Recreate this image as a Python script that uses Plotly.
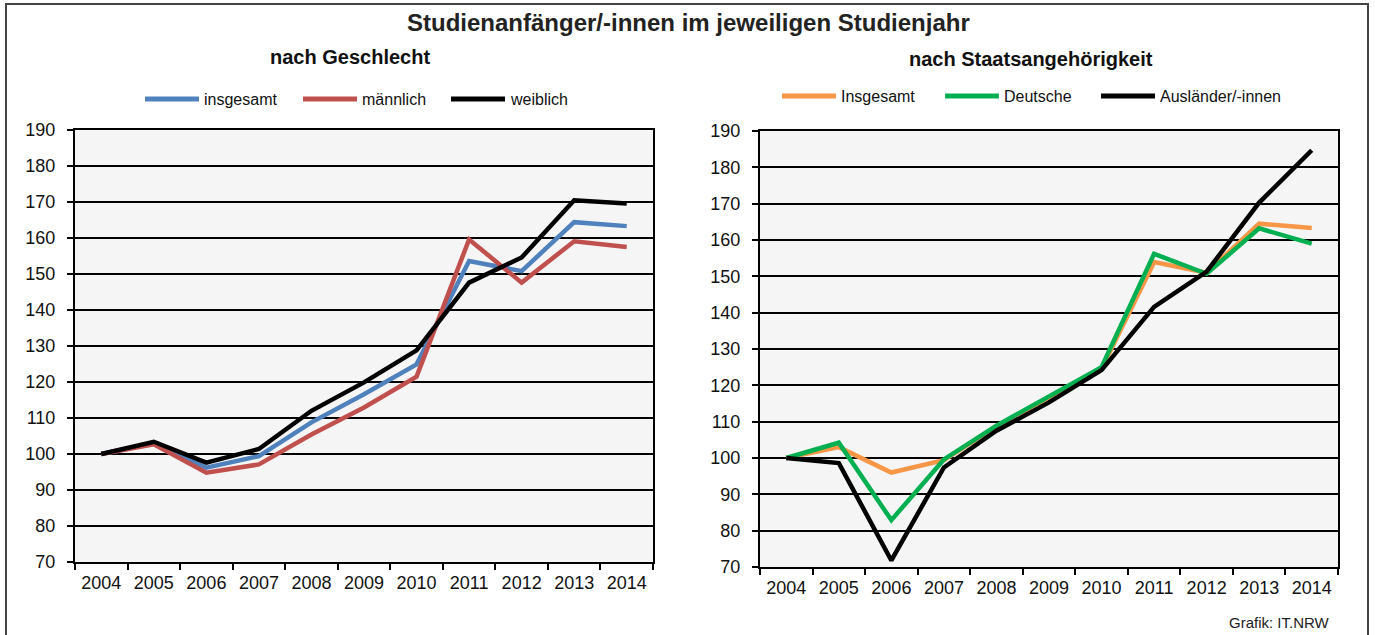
import plotly.graph_objects as go

years = [str(y) for y in range(2004, 2015)]

# nach Geschlecht
insgesamt = [100, 103.0, 96.2, 99.4, 108.8, 116.6, 124.9, 153.6, 150.8, 164.4, 163.3]
maennlich = [100, 102.7, 94.8, 97.1, 105.4, 112.9, 121.5, 159.6, 147.6, 159.1, 157.5]
weiblich = [100, 103.4, 97.6, 101.4, 112.0, 119.9, 128.8, 147.6, 154.6, 170.5, 169.6]

# nach Staatsangehörigkeit
insgesamt_staat = [100, 103.0, 96.0, 99.4, 108.7, 116.6, 124.6, 153.9, 151.0, 164.5, 163.3]
deutsche = [100, 104.2, 82.9, 99.6, 108.9, 117.0, 125.0, 156.2, 150.7, 163.2, 159.0]
auslaender = [100, 98.6, 71.8, 97.4, 107.5, 115.3, 124.2, 141.6, 151.3, 170.3, 184.7]

W, H = 1375, 635
FONT = "Liberation Sans, Arial, sans-serif"


def px_x(p):
    return p / W


def px_y(p):
    return 1 - p / H


fig = go.Figure()

left = [("insgesamt", insgesamt, "#4f81bd"), ("männlich", maennlich, "#c0504d"), ("weiblich", weiblich, "#000000")]
right = [("Insgesamt", insgesamt_staat, "#f79646"), ("Deutsche", deutsche, "#00b050"), ("Ausländer/-innen", auslaender, "#000000")]

for name, vals, color in left:
    fig.add_trace(go.Scatter(x=years, y=vals, mode="lines", name=name, line=dict(color=color, width=4.5),
                             xaxis="x", yaxis="y", showlegend=False))
for name, vals, color in right:
    fig.add_trace(go.Scatter(x=years, y=vals, mode="lines", name=name, line=dict(color=color, width=4.5),
                             xaxis="x2", yaxis="y2", showlegend=False))

xax = dict(type="category", range=[-0.5, len(years) - 0.5], showline=True, linecolor="black", linewidth=2,
           mirror=True, automargin=False, ticks="outside", ticklen=6, tickwidth=2, tickcolor="black",
           tickson="boundaries", showgrid=False, ticklabelstandoff=3,
           tickfont=dict(size=18, color="#111", family=FONT), fixedrange=True)
yax = dict(range=[70, 190], dtick=10, showline=True, linecolor="black", linewidth=2, mirror=True, automargin=False,
           ticks="outside", ticklen=6, tickwidth=2, tickcolor="black",
           showgrid=True, gridcolor="black", gridwidth=2, zeroline=False,
           tickfont=dict(size=18, color="#111", family=FONT), ticklabelstandoff=8)

fig.update_layout(
    template="none",
    width=W, height=H,
    autosize=False,
    margin=dict(l=0, r=0, t=0, b=0, autoexpand=False),
    paper_bgcolor="white",
    plot_bgcolor="#f5f5f5",
    font=dict(family=FONT, color="#111"),
    xaxis=dict(xax, domain=[px_x(75), px_x(653)], anchor="y"),
    yaxis=dict(yax, domain=[px_y(562), px_y(130)], anchor="x"),
    xaxis2=dict(xax, domain=[px_x(760), px_x(1338)], anchor="y2"),
    yaxis2=dict(yax, domain=[px_y(567), px_y(131)], anchor="x2"),
    showlegend=False,
)

# outer frame
fig.add_shape(type="rect", xref="paper", yref="paper", x0=px_x(6), x1=px_x(1368), y0=px_y(640), y1=px_y(4),
              line=dict(color="#444", width=2), fillcolor="rgba(0,0,0,0)", layer="below")

ann = dict(xref="paper", yref="paper", showarrow=False, xanchor="center", yanchor="middle")
fig.add_annotation(ann, text="<b>Studienanfänger/-innen im jeweiligen Studienjahr</b>", x=px_x(688), y=px_y(22),
                   font=dict(size=24, family=FONT, color="#222"))
fig.add_annotation(ann, text="<b>nach Geschlecht</b>", x=px_x(350), y=px_y(57),
                   font=dict(size=20, family=FONT, color="#111"))
fig.add_annotation(ann, text="<b>nach Staatsangehörigkeit</b>", x=px_x(1031), y=px_y(59),
                   font=dict(size=20, family=FONT, color="#111"))
fig.add_annotation(ann, text="Grafik: IT.NRW", x=px_x(1332), y=px_y(622), xanchor="right",
                   font=dict(size=15, family=FONT, color="#222"))

# legends (line sample + label), one row above each panel
legend_rows = [
    (left, [145, 303, 451], 99),
    (right, [782, 945, 1101], 96),
]
for items, starts, ly in legend_rows:
    for (name, _, color), x0 in zip(items, starts):
        fig.add_shape(type="line", xref="paper", yref="paper", x0=px_x(x0), x1=px_x(x0 + 54),
                      y0=px_y(ly), y1=px_y(ly), line=dict(color=color, width=5))
        fig.add_annotation(ann, text=name, x=px_x(x0 + 57), y=px_y(ly), xanchor="left",
                           font=dict(size=16, family=FONT, color="#111"))

fig.write_html("out.html", config={"displayModeBar": False},
               post_script="document.body.style.margin='0';")
